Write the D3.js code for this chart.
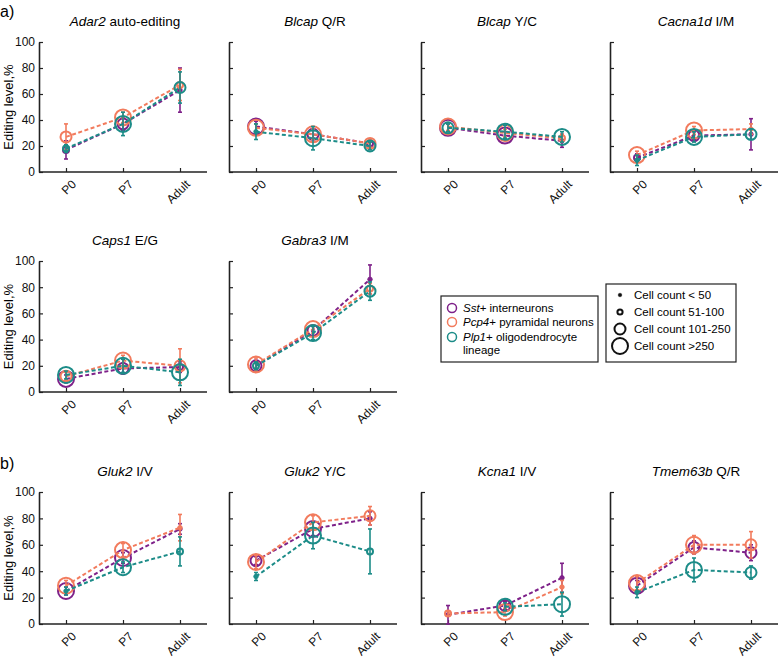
<!DOCTYPE html>
<html><head><meta charset="utf-8">
<script src="https://cdn.jsdelivr.net/npm/d3@7"></script>
<style>
body{margin:0;background:#fff;}
text{font-family:"Liberation Sans",Arial,Helvetica,sans-serif;}
</style></head>
<body><svg id="chart" width="779" height="657"></svg>
<script>
const categories = ["P0","P7","Adult"];
const genes = ["Adar2","Blcap","Blcap","Cacna1d","Caps1","Gabra3","Gluk2","Gluk2","Kcna1","Tmem63b"];
const sites = ["auto-editing","Q/R","Y/C","I/M","E/G","I/M","I/V","Y/C","I/V","Q/R"];
const yTicks = [0,20,40,60,80,100];
const cellTypes = ["Sst","Pcp4","Plp1"];
const cellLabels = ["+ interneurons","+ pyramidal neurons","+ oligodendrocyte"];
const sizeLabels = ["Cell count < 50","Cell count 51-100","Cell count 101-250","Cell count >250"];

// Sst+ interneurons
const sstMean = [[17,37,63],[35,29,22],[34,28,24],[11,28,29],[10,18,19],[20,47,86],[25,50,72],[48,72,80],[7,14,35],[29,58,54]];
const sstErr  = [[7,5,17],[4,3,3],[3,3,5],[3,3,12],[3,4,4],[4,4,11],[3,4,4],[3,5,5],[7,3,11],[4,5,6]];
const sstSize = [[1,2,0],[3,2,1],[3,3,0],[1,2,0],[3,2,1],[2,2,0],[3,3,0],[2,3,0],[0,2,0],[3,2,2]];
// Pcp4+ pyramidal neurons
const pcpMean = [[27,42,67],[34,29,22],[35,30,26],[13,32,33],[12,24,20],[21,48,79],[29,56,73],[47,77,82],[8,9,28],[31,60,60]];
const pcpErr  = [[10,4,12],[3,4,3],[3,3,3],[3,3,4],[3,4,13],[5,3,4],[4,5,10],[5,5,7],[2,3,5],[5,7,10]];
const pcpSize = [[2,3,1],[3,3,2],[3,3,1],[3,3,0],[2,3,2],[3,3,1],[3,3,0],[3,3,2],[1,3,0],[3,3,2]];
// Plp1+ oligodendrocyte lineage
const plpMean = [[18,37,65],[31,26,20],[34,31,27],[9,27,29],[13,20,15],[20,45,77],[25,43,55],[36,67,55],[null,13,15],[24,41,39]];
const plpErr  = [[3,9,12],[6,9,3],[3,5,4],[4,4,4],[3,5,10],[3,5,7],[3,4,11],[3,10,17],[0,3,9],[4,9,5]];
const plpSize = [[1,3,2],[0,3,2],[2,3,3],[0,3,2],[3,3,3],[1,3,2],[0,3,1],[0,3,1],[0,3,3],[0,3,2]];

const colors = ["#7e2189","#f27b5d","#1c8c88"];
const radii = [2.2,3,5.5,8];
const means = [sstMean,pcpMean,plpMean], errs=[sstErr,pcpErr,plpErr], sizes=[sstSize,pcpSize,plpSize];

const svg = d3.select("#chart");
const colLeft = [39,229,421,610];
const rows = [{top:42,bottom:172},{top:261,bottom:392},{top:492,bottom:624}];
const panelPos = [[0,0],[0,1],[0,2],[0,3],[1,0],[1,1],[2,0],[2,1],[2,2],[2,3]];
const axW = 168;

panelPos.forEach(([r,c],i)=>{
  const L = colLeft[c], R=rows[r];
  const x = d3.scalePoint().domain(categories).range([L+27,L+141]);
  const y = d3.scaleLinear().domain([0,100]).range([R.bottom,R.top]);
  const g = svg.append("g");
  // title
  const t = g.append("text").attr("x",L+axW/2+2).attr("y",R.top-16).attr("text-anchor","middle")
    .attr("font-size",13.5);
  t.append("tspan").attr("font-style","italic").text(genes[i]);
  t.append("tspan").text(" "+sites[i]);
  // axes
  const ya = d3.axisLeft(y).tickValues(yTicks).tickSizeInner(-4).tickSizeOuter(0).tickPadding(c===0?4:0)
    .tickFormat(c===0?d3.format("d"):"");
  const yg = g.append("g").attr("transform",`translate(${L},0)`).call(ya);
  yg.select(".domain").attr("stroke","#222").attr("stroke-width",1.6);
  yg.selectAll(".tick line").attr("stroke","#222").attr("stroke-width",1.2);
  yg.selectAll(".tick text").attr("font-size",12).attr("fill","#111");
  const xa = d3.axisBottom(x).tickSizeInner(-4).tickSizeOuter(0).tickFormat("");
  const xg = g.append("g").attr("transform",`translate(0,${R.bottom})`).call(xa);
  xg.select(".domain").attr("d",`M${L},0H${L+axW}`).attr("stroke","#222").attr("stroke-width",1.6);
  xg.selectAll(".tick line").attr("stroke","#222").attr("stroke-width",1.2);
  categories.forEach(cat=>{
    g.append("text").attr("transform",`translate(${x(cat)+5},${R.bottom+7}) rotate(-45)`)
      .attr("text-anchor","end").attr("dy","0.7em").attr("font-size",12).attr("fill","#111").text(cat);
  });
  if(c===0){
    g.append("text").attr("transform",`translate(13,${(R.top+R.bottom)/2}) rotate(-90)`)
      .attr("text-anchor","middle").attr("font-size",13).text("Editing level,%");
  }
  // series
  cellTypes.forEach((ct,s)=>{
    const m = means[s][i], e=errs[s][i], sz=sizes[s][i];
    const pts = categories.map((cat,k)=>({cat,v:m[k],e:e[k],sz:sz[k]})).filter(d=>d.v!==null);
    const line = d3.line().x(d=>x(d.cat)).y(d=>y(d.v));
    g.append("path").datum(pts).attr("d",line).attr("fill","none").attr("stroke",colors[s])
      .attr("stroke-width",2).attr("stroke-dasharray","4,2.5");
    pts.forEach(d=>{
      const cx=x(d.cat);
      g.append("line").attr("x1",cx).attr("x2",cx).attr("y1",y(d.v-d.e)).attr("y2",y(d.v+d.e))
        .attr("stroke",colors[s]).attr("stroke-width",1.6);
      [d.v-d.e,d.v+d.e].forEach(b=>g.append("line").attr("x1",cx-2).attr("x2",cx+2).attr("y1",y(b)).attr("y2",y(b))
        .attr("stroke",colors[s]).attr("stroke-width",1.6));
      g.append("circle").attr("cx",cx).attr("cy",y(d.v)).attr("r",radii[d.sz])
        .attr("fill",d.sz===0?colors[s]:"none").attr("stroke",colors[s]).attr("stroke-width",d.sz===0?1:2);
    });
  });
});

// panel letters
svg.append("text").attr("x",0).attr("y",17).attr("font-size",16).text("a)");
svg.append("text").attr("x",0).attr("y",469).attr("font-size",16).text("b)");

// legend 1
const l1 = svg.append("g");
l1.append("rect").attr("x",441).attr("y",296).attr("width",157).attr("height",66).attr("fill","#fff").attr("stroke","#222").attr("stroke-width",1.2);
const ly=[308,322,337];
cellTypes.forEach((ct,s)=>{
  l1.append("circle").attr("cx",452).attr("cy",ly[s]).attr("r",4.5).attr("fill","none").attr("stroke",colors[s]).attr("stroke-width",1.5);
  const t=l1.append("text").attr("x",463).attr("y",ly[s]+4).attr("font-size",11.5);
  t.append("tspan").attr("font-style","italic").text(ct);
  t.append("tspan").text(cellLabels[s]);
});
l1.append("text").attr("x",463).attr("y",354).attr("font-size",11.5).text("lineage");

// legend 2
const l2 = svg.append("g");
l2.append("rect").attr("x",606).attr("y",284).attr("width",130).attr("height",78).attr("fill","#fff").attr("stroke","#222").attr("stroke-width",1.2);
const l2y=[295,312,329,346];
const l2r=[1.8,2.6,5.5,8];
sizeLabels.forEach((lab,k)=>{
  l2.append("circle").attr("cx",620).attr("cy",l2y[k]).attr("r",l2r[k]).attr("fill",k===0?"#111":"none").attr("stroke","#111").attr("stroke-width",k===0?0.5:2);
  l2.append("text").attr("x",634).attr("y",l2y[k]+4).attr("font-size",11.5).text(lab);
});
</script></body></html>
